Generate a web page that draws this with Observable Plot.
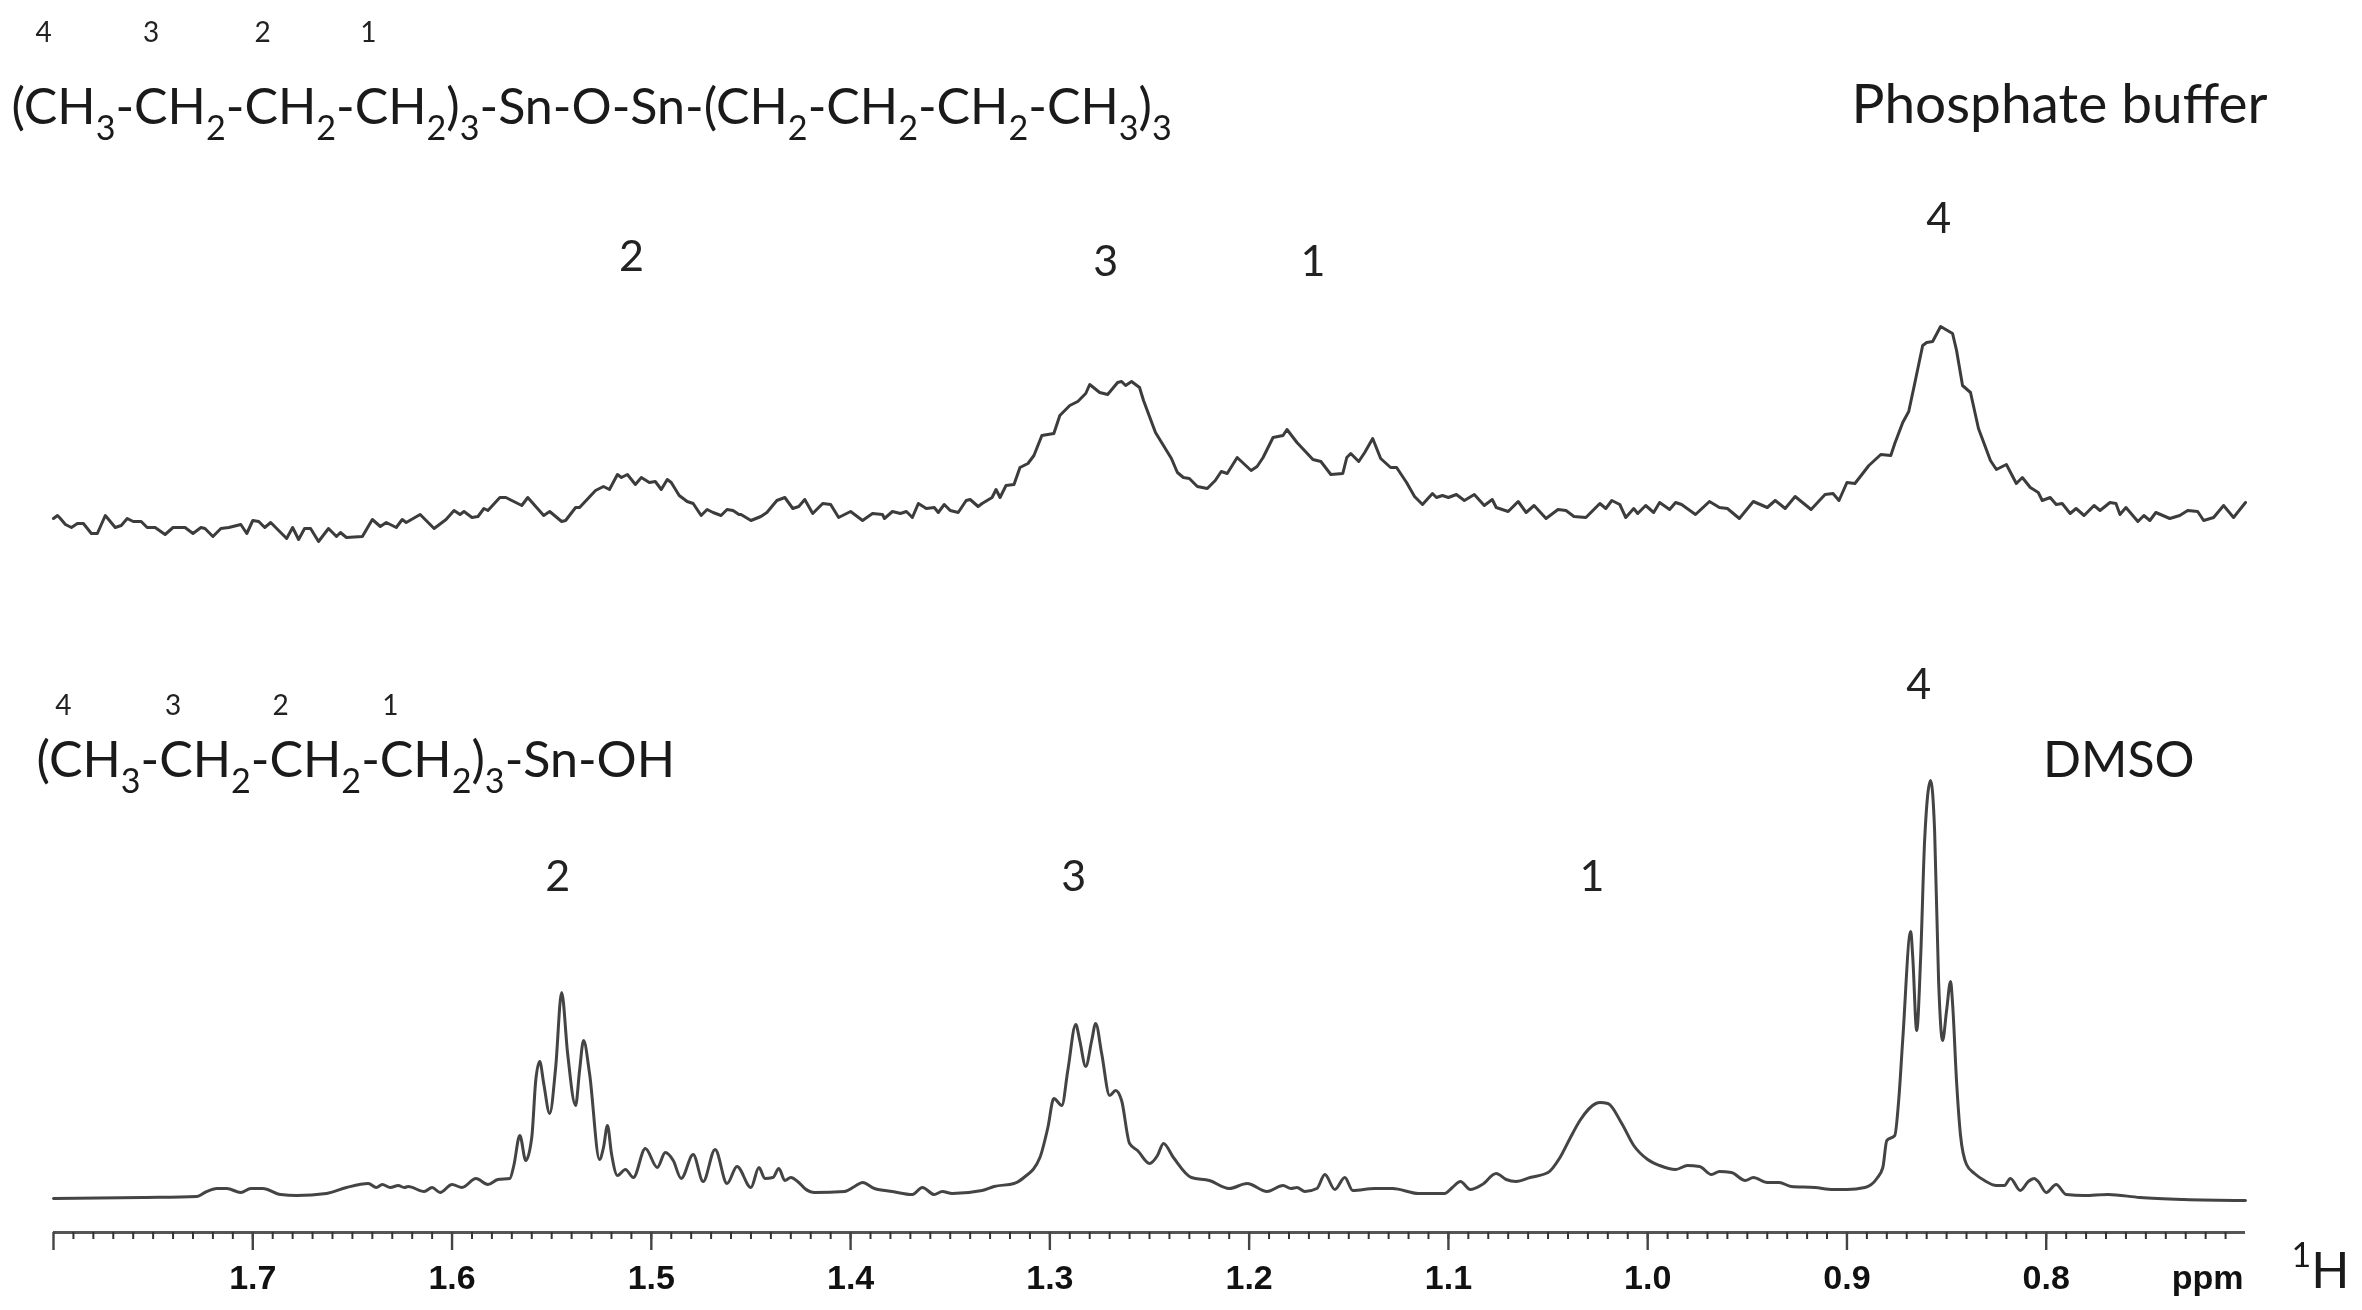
<!DOCTYPE html>
<html><head><meta charset="utf-8">
<script src="https://cdn.jsdelivr.net/npm/d3@7"></script>
<script src="https://cdn.jsdelivr.net/npm/@observablehq/plot@0.6"></script>
<style>html,body{margin:0;padding:0;background:#fff}svg{display:block;filter:blur(0.6px)}</style>
</head><body><div id="chart"></div>
<script>
// Chemical shift (ppm) and signal height (a.u. above the axis)
const bufferPpm = [1.800,1.798,1.797,1.794,1.791,1.788,1.785,1.781,1.778,1.774,1.769,1.766,1.763,1.760,1.756,1.753,1.749,1.744,1.740,1.734,1.730,1.726,1.724,1.720,1.716,1.712,1.706,1.703,1.700,1.697,1.694,1.691,1.687,1.683,1.680,1.677,1.674,1.671,1.667,1.662,1.658,1.656,1.653,1.645,1.640,1.636,1.633,1.628,1.625,1.623,1.616,1.609,1.603,1.599,1.596,1.594,1.590,1.587,1.584,1.582,1.576,1.573,1.565,1.562,1.554,1.551,1.545,1.543,1.538,1.536,1.528,1.524,1.521,1.517,1.515,1.512,1.508,1.505,1.501,1.498,1.495,1.492,1.490,1.486,1.482,1.479,1.475,1.472,1.469,1.465,1.462,1.459,1.456,1.455,1.450,1.445,1.442,1.437,1.433,1.429,1.426,
1.423,1.419,1.414,1.410,1.406,1.400,1.394,1.389,1.384,1.383,1.379,1.375,1.372,1.369,1.366,1.362,1.358,1.356,1.353,1.350,1.346,1.342,1.340,1.336,1.334,1.329,1.327,1.325,1.322,1.318,1.315,1.311,1.308,1.304,1.298,1.295,1.290,1.286,1.282,1.280,1.275,1.271,1.266,1.264,1.262,1.259,1.255,1.253,1.247,1.243,1.239,1.236,1.233,1.230,1.226,1.221,1.217,1.214,1.211,1.206,1.199,1.196,1.193,1.188,1.183,1.181,1.176,1.168,1.164,1.159,1.153,1.151,1.149,1.145,1.142,1.138,1.134,1.129,1.126,1.121,1.117,1.113,1.108,1.106,1.103,1.100,1.096,1.092,1.087,1.082,1.078,1.076,1.070,1.065,1.061,1.057,1.051,1.045,1.041,1.037,1.031,
1.024,1.021,1.018,1.014,1.011,1.007,1.005,1.001,0.997,0.994,0.989,0.986,0.983,0.976,0.969,0.964,0.960,0.954,0.947,0.940,0.936,0.931,0.926,0.918,0.911,0.907,0.904,0.900,0.896,0.889,0.883,0.878,0.876,0.872,0.869,0.866,0.862,0.860,0.857,0.853,0.847,0.845,0.842,0.838,0.834,0.828,0.825,0.820,0.815,0.812,0.808,0.804,0.802,0.798,0.795,0.792,0.788,0.785,0.781,0.776,0.773,0.768,0.765,0.763,0.760,0.754,0.751,0.748,0.745,0.738,0.733,0.729,0.724,0.721,0.716,0.711,0.706,0.700];
const bufferSignal = [714,717,715,708,705,709,709,699,699,717,705,707,714,711,711,705,705,698,705,705,699,705,704,696,704,705,708,699,712,711,705,710,702,694,705,693,704,704,691,704,696,700,695,696,713,706,710,705,713,710,718,704,713,722,718,721,715,716,724,722,735,735,727,735,717,721,711,712,725,725,742,746,743,758,755,758,748,755,750,751,743,753,750,737,731,729,717,723,720,717,723,722,718,718,712,716,720,732,735,724,726,
733,719,729,728,715,721,712,719,718,714,721,719,721,715,729,724,725,720,728,722,720,732,733,726,729,735,743,735,747,748,765,769,777,797,799,817,827,831,839,848,840,838,850,851,847,851,845,832,800,787,774,760,755,754,746,744,752,761,759,775,762,766,775,795,797,803,790,773,771,758,759,775,779,771,780,794,774,765,765,750,736,728,739,735,737,735,738,732,738,727,733,725,721,731,720,727,714,723,722,716,715,
729,724,732,728,715,724,719,727,720,730,723,730,728,718,731,725,724,714,731,725,732,724,736,723,738,739,732,750,749,767,778,777,789,810,821,849,887,890,891,906,899,882,847,840,804,772,763,768,749,755,745,740,732,735,728,729,719,724,717,727,722,730,729,718,725,711,717,712,720,714,717,722,721,712,715,727,715,730];

const dmsoPpm = [1.800,1.755,1.728,1.724,1.718,1.713,1.706,1.701,1.695,1.686,1.678,1.663,1.653,1.642,1.638,1.635,1.631,1.627,1.624,1.622,1.614,1.610,1.606,1.600,1.595,1.588,1.582,1.577,1.571,1.569,1.566,1.563,1.560,1.558,1.556,1.554,1.551,1.548,1.545,1.542,1.538,1.536,1.534,1.531,1.526,1.524,1.522,1.520,1.517,1.513,1.509,1.503,1.497,1.493,1.489,1.485,1.479,1.474,1.468,1.462,1.457,1.450,1.446,1.443,1.439,1.436,1.433,1.430,1.426,
1.423,1.418,1.403,1.398,1.394,1.388,1.379,1.369,1.364,1.358,1.354,1.349,1.334,1.328,1.318,1.313,1.305,1.301,1.298,1.294,1.291,1.287,1.285,1.282,1.279,1.277,1.274,1.270,1.267,1.264,1.260,1.256,1.250,1.246,1.243,1.238,1.229,1.220,1.210,1.201,1.191,1.183,1.179,1.176,1.172,1.166,1.162,1.157,1.152,1.148,1.137,1.128,1.115,1.102,1.098,1.094,1.089,1.083,1.076,1.071,1.066,1.059,1.050,1.044,1.039,1.034,1.026,
1.024,1.020,1.013,1.007,1.000,0.994,0.986,0.980,0.974,0.968,0.964,0.958,0.951,0.947,0.940,0.934,0.928,0.916,0.907,0.900,0.891,0.885,0.882,0.880,0.876,0.874,0.872,0.868,0.867,0.865,0.863,0.861,0.858,0.856,0.854,0.852,0.850,0.848,0.847,0.845,0.843,0.840,0.836,0.831,0.825,0.821,0.818,0.813,0.809,0.806,0.804,0.800,0.795,0.790,0.781,0.769,0.753,0.731,0.700];
const dmsoSignal = [34,35,36,40,44,44,40,44,44,38,37,39,45,49,45,48,45,47,45,46,41,45,40,48,45,54,48,53,54,67,97,72,95,152,171,149,119,165,240,179,127,162,192,159,73,85,107,79,57,63,55,84,65,80,72,54,78,51,83,49,66,45,65,54,55,64,52,55,50,
44,40,41,46,50,44,41,38,45,38,41,39,42,46,49,55,75,105,134,127,162,208,192,166,192,209,179,137,142,132,89,82,69,77,89,75,55,52,44,49,41,47,44,45,41,44,58,43,55,42,44,44,39,39,45,51,43,48,59,53,51,55,60,75,94,112,129,
130,129,109,87,73,67,63,67,66,58,61,60,52,55,50,50,46,45,43,43,45,54,65,92,97,133,193,301,276,202,276,393,452,401,251,192,222,251,229,151,97,68,59,52,47,47,54,42,51,54,51,40,48,38,37,38,35,33,32];

// Axis ticks
const majorTicks = [1.8,1.7,1.6,1.5,1.4,1.3,1.2,1.1,1.0,0.9,0.8];
const unlabelledTick = 1.8;
const minorTicks = d3.range(71,180).map(d => d/100);

// Text annotations: assignments, formulas and solvent names, anchored in data space
const smallLabels = ["4","3","2","1","4","3","2","1"];
const smallPpm = [1.805,1.751,1.695,1.642,1.795,1.740,1.686,1.631];
const smallHeight = [1199,1199,1199,1199,526,526,526,526];

const peakLabels = ["2","3","1","4","2","3","1","4"];
const peakPpm = [1.510,1.272,1.168,0.854,1.547,1.288,1.028,0.864];
const peakHeight = [975,970,970,1013,355,355,355,547];

const formulaLabels = ["(CH_3-CH_2-CH_2-CH_2)_3-Sn-O-Sn-(CH_2-CH_2-CH_2-CH_3)_3","(CH_3-CH_2-CH_2-CH_2)_3-Sn-OH"];
const formulaPpm = [1.8211,1.8085];
const formulaHeight = [1125,472];

const solventLabel = "Phosphate buffer";
const solventPpm = 0.8977;
const solventHeight = 1127;
const dmsoLabel = "DMSO";
const dmsoLabelPpm = 0.8016;
const dmsoLabelHeight = 472;

const nucleusLabel = "^1H";
const unitLabel = "ppm";

const rows = (xs, ys, ts) => xs.map((x,i) => ({x, y: ys[i], t: ts ? ts[i] : undefined}));
const textFont = "Lato";

const chart = Plot.plot({
  width: 2362, height: 1310,
  marginLeft: 53, marginRight: 117, marginTop: 0, marginBottom: 78,
  style: {background: "#fff", overflow: "visible"},
  x: {domain: [1.8, 0.7]},
  y: {domain: [0, 1232], axis: null},
  marks: [
    Plot.line(rows(bufferPpm, bufferSignal), {x:"x", y:"y", stroke:"#3c3c3c", strokeWidth:3, curve:"linear"}),
    Plot.line(rows(dmsoPpm, dmsoSignal), {x:"x", y:"y", stroke:"#444", strokeWidth:3, curve:"monotone-x"}),
    Plot.ruleY([0], {x1:1.8, x2:0.7, stroke:"#555", strokeWidth:3.2}),
    Plot.axisX({ticks: minorTicks, tickSize: 7, text: null, label: null, stroke:"#333", strokeWidth:2}),
    Plot.axisX({ticks: majorTicks, tickSize: 18, tickPadding: 14, label: null, stroke:"#444", strokeWidth:2.4,
      tickFormat: d => d === unlabelledTick ? "" : d3.format(".1f")(d),
      fontSize: 34, fontWeight: "bold", fontFamily: "Liberation Sans", fill:"#111"}),
    Plot.text(rows(smallPpm, smallHeight, smallLabels), {x:"x", y:"y", text:"t", fontSize:28, fontFamily:textFont, fill:"#222"}),
    Plot.text(rows(peakPpm, peakHeight, peakLabels), {x:"x", y:"y", text:"t", fontSize:43, fontFamily:textFont, fill:"#222"}),
    Plot.text(rows(formulaPpm, formulaHeight, formulaLabels), {x:"x", y:"y", text:"t", fontSize:50.2, fontFamily:textFont, textAnchor:"start", fill:"#1a1a1a"}),
    Plot.text([solventLabel], {x:[solventPpm], y:[solventHeight], text:d=>d, fontSize:55, fontFamily:textFont, textAnchor:"start", fill:"#1a1a1a"}),
    Plot.text([dmsoLabel], {x:[dmsoLabelPpm], y:[dmsoLabelHeight], text:d=>d, fontSize:50, fontFamily:textFont, textAnchor:"start", fill:"#1a1a1a"}),
    Plot.text([unitLabel], {x:[0.7], y:[0], text:d=>d, dx:-2, dy:46, fontSize:34, fontWeight:"bold", fontFamily:"Liberation Sans", textAnchor:"end", fill:"#111"}),
    Plot.text([nucleusLabel], {x:[0.7], y:[0], text:d=>d, dx:46, dy:39, fontSize:50, fontFamily:textFont, textAnchor:"start", fill:"#1a1a1a"})
  ]
});

// Turn the _n and ^n markers in text into real sub- and superscript spans
chart.querySelectorAll("text").forEach(node => {
  const s = node.textContent;
  if (!/[_^]/.test(s)) return;
  node.textContent = "";
  const ns = "http://www.w3.org/2000/svg";
  let pending = 0;
  s.split(/([_^]\d)/).filter(Boolean).forEach(part => {
    const span = document.createElementNS(ns, "tspan");
    const m = part.match(/^([_^])(\d)$/);
    if (m) {
      const d = m[1] === "_" ? 0.32 : -0.42;
      span.textContent = m[2];
      span.setAttribute("font-size", "0.68em");
      span.setAttribute("dy", `${d / 0.68}em`);
      pending = -d;
    } else {
      span.textContent = part;
      if (pending) span.setAttribute("dy", `${pending}em`);
      pending = 0;
    }
    node.appendChild(span);
  });
});
document.getElementById("chart").appendChild(chart);
</script>
</body></html>
